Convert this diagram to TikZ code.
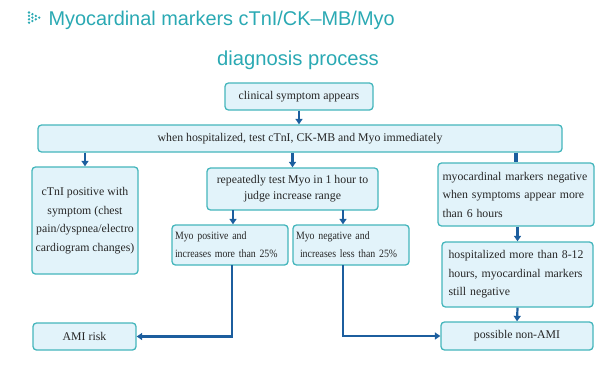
\documentclass[tikz,border=0pt]{standalone}
\usepackage{fontspec}
\setmainfont{Liberation Serif}
\newfontfamily\titlefont{Liberation Sans}
\newfontfamily\condfont[FakeStretch=0.88]{Liberation Serif}
\usetikzlibrary{arrows.meta}
\definecolor{ttl}{HTML}{2AA9B3}
\definecolor{bxline}{HTML}{45B6BC}
\definecolor{bxfill}{HTML}{E2F3FA}
\definecolor{arr}{HTML}{1C5E9E}
\tikzset{
  bx/.style={draw=bxline, fill=bxfill, rounded corners=3.5pt, line width=1.3pt,
    inner sep=2pt, font=\fontsize{11.8}{18.5}\selectfont, text=black!85},
  conn/.style={draw=arr, line width=2.2pt, -{Triangle[length=5.5pt,width=7pt]}},
  bar/.style={draw=arr, line width=3.5pt},
}
\begin{document}
\begin{tikzpicture}[x=1pt,y=-1pt]
\useasboundingbox (0,0) rectangle (612,372);
% title icon
\foreach \c/\n in {0/4,1/3,2/2,3/1}{
  \foreach \k in {1,...,\n}{
    \fill[ttl] ({29+3.4*\c},{12.5+3.4*(\k-1)+1.7*\c}) circle (1.3pt);
  }
}
\node[font=\titlefont\fontsize{19.9}{24}\selectfont, text=ttl, anchor=west] (t1) at (45,20) {Myocardinal markers cTnI/CK–MB/Myo};
\node[font=\titlefont\fontsize{20.2}{24}\selectfont, text=ttl] (t2) at (298,60) {diagnosis process};

\node[bx, minimum width=148pt, minimum height=27pt] (clin) at (299,96.5) {clinical symptom appears};
\node[bx, minimum width=524pt, minimum height=27pt] (wide) at (300,138.5) {when hospitalized, test cTnI, CK-MB and Myo immediately};
\node[bx, minimum width=106pt, minimum height=107pt, align=center] (left) at (85,220.5) {cTnI positive with\\symptom (chest\\pain/dyspnea/electro\\cardiogram changes)};
\node[bx, minimum width=171pt, minimum height=42pt, align=center, font=\fontsize{11.8}{16}\selectfont] (rep) at (292.5,189) {repeatedly test Myo in 1 hour to\\judge increase range};
\node[bx, minimum width=116pt, minimum height=40pt, text width=110pt, align=left, font=\condfont\fontsize{11.2}{18}\selectfont] (pos) at (230,245) {Myo positive and\\increases more than 25\%};
\node[bx, minimum width=116pt, minimum height=40pt, text width=110pt, align=left, font=\condfont\fontsize{11.2}{18}\selectfont] (neg) at (351,245) {Myo negative and\\\hspace*{4pt}increases less than 25\%};
\node[bx, minimum width=156pt, minimum height=63pt, text width=147pt, align=left] (r1) at (516,194.5) {myocardinal markers negative\\when symptoms appear more\\than 6 hours};
\node[bx, minimum width=151pt, minimum height=65pt, text width=138pt, align=left] (r2) at (517.5,274.5) {hospitalized more than 8-12\\hours, myocardinal markers\\still negative};
\node[bx, minimum width=103pt, minimum height=27pt] (ami) at (84.5,336.5) {AMI risk};
\node[bx, minimum width=152pt, minimum height=28pt] (non) at (517,336) {possible non-AMI};

\draw[conn] (clin.south) -- (clin.south |- wide.north);
\draw[conn] (left.north |- wide.south) -- (left.north);
\draw[conn] (rep.north |- wide.south) -- (rep.north);
\draw[bar] (r1.north |- wide.south) -- (r1.north);
\coordinate (pd) at (233,210);
\coordinate (nd) at (343,210);
\draw[conn] (pd) -- (pd |- pos.north);
\draw[conn] (nd) -- (nd |- neg.north);
\coordinate (pu) at (232,265);
\coordinate (nu) at (343,265);
\draw[conn] (pu) |- (ami.east);
\draw[conn] (nu) |- (non.west);
\draw[conn] (r1.south -| r2.north) -- (r2.north);
\draw[conn] (r2.south) -- (non.north);
\end{tikzpicture}
\end{document}
